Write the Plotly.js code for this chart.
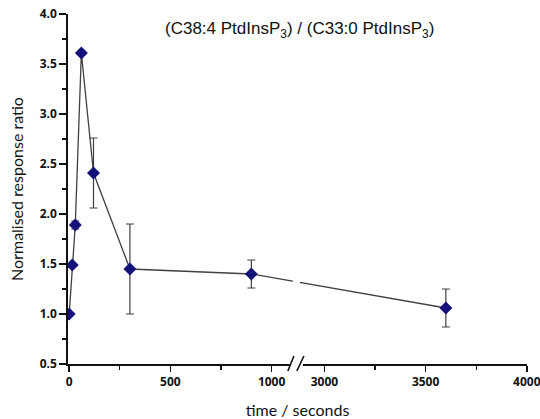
<!DOCTYPE html>
<html>
<head>
<meta charset="utf-8">
<script src="https://cdn.plot.ly/plotly-3.0.1.min.js"></script>
<style>html,body{margin:0;padding:0;background:#fff;}#chart{width:540px;height:419px;}</style>
</head>
<body>
<div id="chart"></div>
<script>
// Data (time in seconds, normalised response ratio, error)
const timeSeconds = [0, 15, 30, 60, 120, 300, 900, 3600];
const ratio       = [1.00, 1.49, 1.89, 3.61, 2.41, 1.45, 1.40, 1.06];
const ratioError  = [0.00, 0.00, 0.04, 0.02, 0.35, 0.45, 0.14, 0.19];
const xTickValues = [0, 500, 1000, 3000, 3500, 4000];
const xMinorTicks = [250, 750, 3250, 3750];
const yTickValues = [0.5, 1.0, 1.5, 2.0, 2.5, 3.0, 3.5, 4.0];

// Broken axis: compress the gap between the two segments
const BREAK_AT = 1120;       // break position (axis units)
const GAP = 1739;            // amount of time removed by the break
const mapX = t => (t > BREAK_AT ? t - GAP : t);

const trace = {
  x: timeSeconds.map(mapX),
  y: ratio,
  type: 'scatter',
  mode: 'lines+markers',
  line: {color: '#404040', width: 1.3},
  marker: {symbol: 'diamond', size: 10, color: '#14127a'},
  error_y: {type: 'data', array: ratioError, visible: true, color: '#404040', thickness: 1.2, width: 4},
  hoverinfo: 'x+y'
};

const tickFont = {family: '"Open Sans", "DejaVu Sans", sans-serif', size: 12, color: '#111'};
const bold = s => '<b>' + s + '</b>';

const breakShapes = [
  // white gap in the data line and axis
  {type: 'rect', xref: 'x', yref: 'paper', xsizemode: 'pixel', xanchor: BREAK_AT,
   x0: -3, x1: 4, y0: 0.02, y1: 0.98, fillcolor: '#fff', line: {width: 0}, layer: 'above'},
  {type: 'rect', xref: 'x', yref: 'paper', xsizemode: 'pixel', ysizemode: 'pixel', xanchor: BREAK_AT, yanchor: 0,
   x0: -6, x1: 7, y0: -4, y1: 4, fillcolor: '#fff', line: {width: 0}, layer: 'above'},
  // the // marks
  {type: 'line', xref: 'x', yref: 'paper', xsizemode: 'pixel', ysizemode: 'pixel', xanchor: BREAK_AT, yanchor: 0,
   x0: -8, x1: -2, y0: -7, y1: 8, line: {color: '#111', width: 1.6}, layer: 'above'},
  {type: 'line', xref: 'x', yref: 'paper', xsizemode: 'pixel', ysizemode: 'pixel', xanchor: BREAK_AT, yanchor: 0,
   x0: 1, x1: 8, y0: -7, y1: 8, line: {color: '#111', width: 1.6}, layer: 'above'}
];

const layout = {
  width: 540, height: 419,
  margin: {l: 68, r: 13, t: 14, b: 55},
  paper_bgcolor: '#fff', plot_bgcolor: '#fff',
  showlegend: false,
  xaxis: {
    range: [-6, mapX(4000) + 1],
    tickmode: 'array',
    tickvals: xTickValues.map(mapX),
    ticktext: xTickValues.map(v => bold(String(v))),
    ticklabeloverflow: 'allow',
    ticks: 'outside', ticklen: 6, tickwidth: 1.5, tickcolor: '#111',
    minor: {tickmode: 'array', tickvals: xMinorTicks.map(mapX), ticks: 'outside', ticklen: 4, tickwidth: 1.3, tickcolor: '#111'},
    showline: true, linecolor: '#111', linewidth: 1.8,
    showgrid: false, zeroline: false,
    tickfont: tickFont,
    title: {text: 'time / seconds', font: {family: 'Lato, sans-serif', size: 16, color: '#111'}, standoff: 18}
  },
  yaxis: {
    range: [0.5, 4.0],
    tickmode: 'array',
    tickvals: yTickValues,
    ticktext: yTickValues.map(v => bold(v.toFixed(1))),
    ticks: 'outside', ticklen: 7, tickwidth: 1.5, tickcolor: '#111',
    minor: {dtick: 0.25, tick0: 0.5, ticks: 'outside', ticklen: 4, tickwidth: 1.3, tickcolor: '#111'},
    showline: true, linecolor: '#111', linewidth: 1.8,
    showgrid: false, zeroline: false,
    tickfont: tickFont,
    title: {text: 'Normalised response ratio', font: {family: 'Lato, sans-serif', size: 16, color: '#111'}, standoff: 12}
  },
  annotations: [{
    text: '(C38:4 PtdInsP<sub>3</sub>) / (C33:0 PtdInsP<sub>3</sub>)',
    xref: 'paper', yref: 'paper', x: 0.505, y: 0.955, xanchor: 'center', yanchor: 'middle',
    showarrow: false,
    font: {family: '"Liberation Sans", Arial, sans-serif', size: 17, color: '#111'}
  }],
  shapes: breakShapes
};

Plotly.newPlot('chart', [trace], layout, {displayModeBar: false, staticPlot: true});
</script>
</body>
</html>
